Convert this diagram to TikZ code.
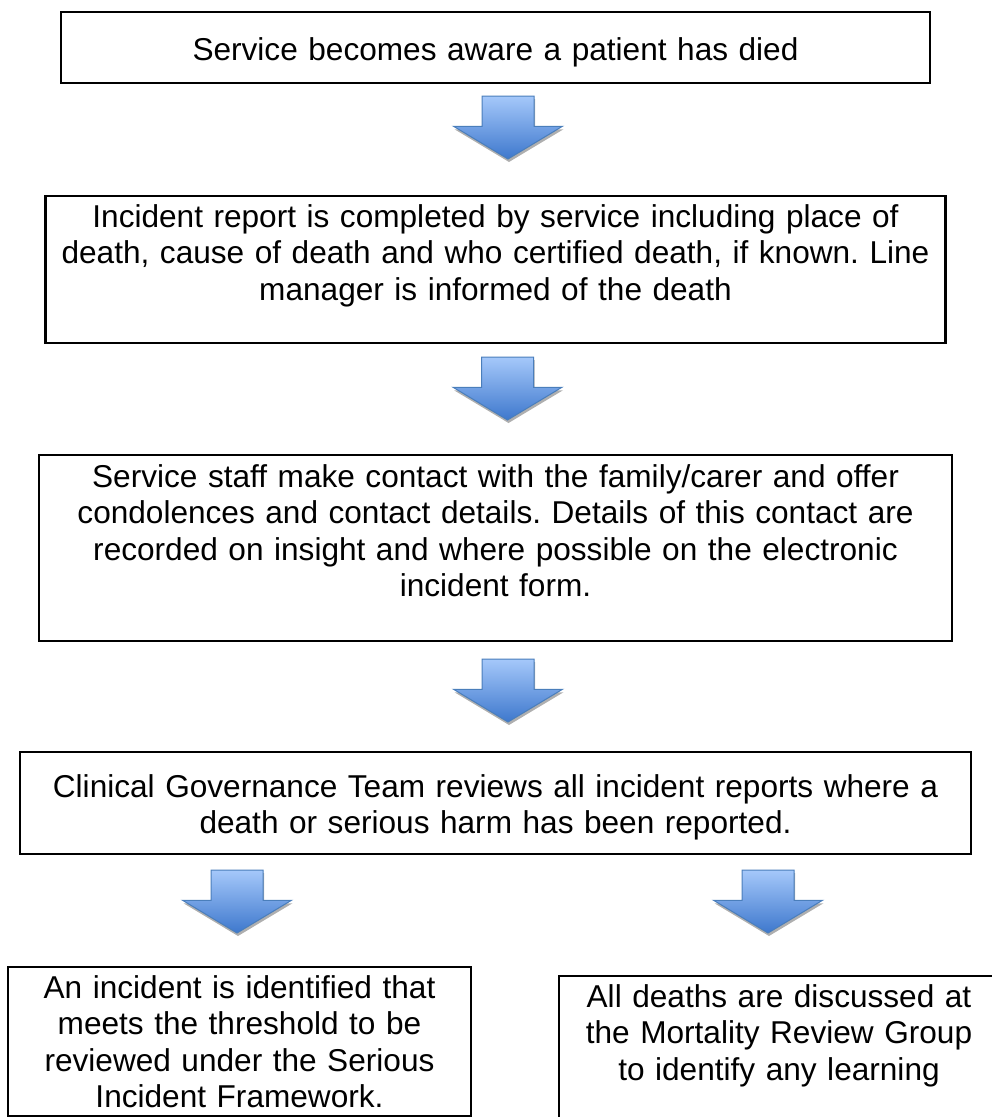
\documentclass[tikz,border=0pt]{standalone}
\usepackage{fontspec}
\setmainfont{Liberation Sans}
\usepackage{tikz}
\usetikzlibrary{positioning,shapes.arrows,shadows}
\definecolor{arrline}{RGB}{74,126,187}
\definecolor{arrtop}{RGB}{165,200,250}
\definecolor{arrbot}{RGB}{62,120,205}

\begin{document}
\frenchspacing
\begin{tikzpicture}[
  x=1pt, y=1pt,
  box/.style={draw=black, line width=2.5pt, inner sep=0pt, outer sep=0pt, align=center, font=\fontsize{31.6}{36.6}\selectfont},
  blockarr/.style={single arrow, rotate=-90, anchor=tail, draw=arrline, line width=1pt, top color=arrtop, bottom color=arrbot, inner xsep=0pt, inner ysep=25.5pt, outer sep=0pt, single arrow head extend=28.5pt, single arrow tip angle=118, minimum height=63pt, drop shadow={shadow xshift=1pt, shadow yshift=-3pt, fill=black!35, opacity=0.9}}
]
\useasboundingbox (0,0) rectangle (992,-1117);

\node[box, anchor=north, text width=869pt, text height=48pt, text depth=23pt] (aware) at (495.5,-12) {Service becomes aware a patient has died};
\node[box, below=113pt of aware, text width=900pt, text height=31pt, text depth=116pt] (report) {Incident report is completed by service including place of\\death, cause of death and who certified death, if known. Line\\manager is informed of the death};
\node[box, below=112pt of report, text width=913pt, text height=32pt, text depth=154pt] (contact) {Service staff make contact with the family/carer and offer\\condolences and contact details. Details of this contact are\\recorded on insight and where possible on the electronic\\incident form.};
\node[box, below=111pt of contact, text width=951pt, text height=45pt, text depth=57pt] (review) {Clinical Governance Team reviews all incident reports where a\\death or serious harm has been reported.};
\node[box, anchor=north west, text width=463pt, text height=31pt, text depth=118pt] (serious) at ([xshift=-12pt, yshift=-113pt]review.south west) {An incident is identified that\\meets the threshold to be\\reviewed under the Serious\\Incident Framework.};
\node[box, anchor=north west, text width=440pt, text height=31pt, text depth=118pt] (mortality) at ([xshift=539pt, yshift=-122pt]review.south west) {All deaths are discussed at\\the Mortality Review Group\\to identify any learning};

% block arrows between the steps
\node[blockarr] (a1) at ([xshift=12.5pt, yshift=-13pt]aware.south) {};
\node[blockarr] (a2) at ([xshift=12pt, yshift=-14pt]report.south) {};
\node[blockarr] (a3) at ([xshift=12.5pt, yshift=-18pt]contact.south) {};
\node[blockarr] (a4) at ([xshift=-258.5pt, yshift=-16pt]review.south) {};
\node[blockarr] (a5) at ([xshift=272.5pt, yshift=-16pt]review.south) {};
\end{tikzpicture}
\end{document}
